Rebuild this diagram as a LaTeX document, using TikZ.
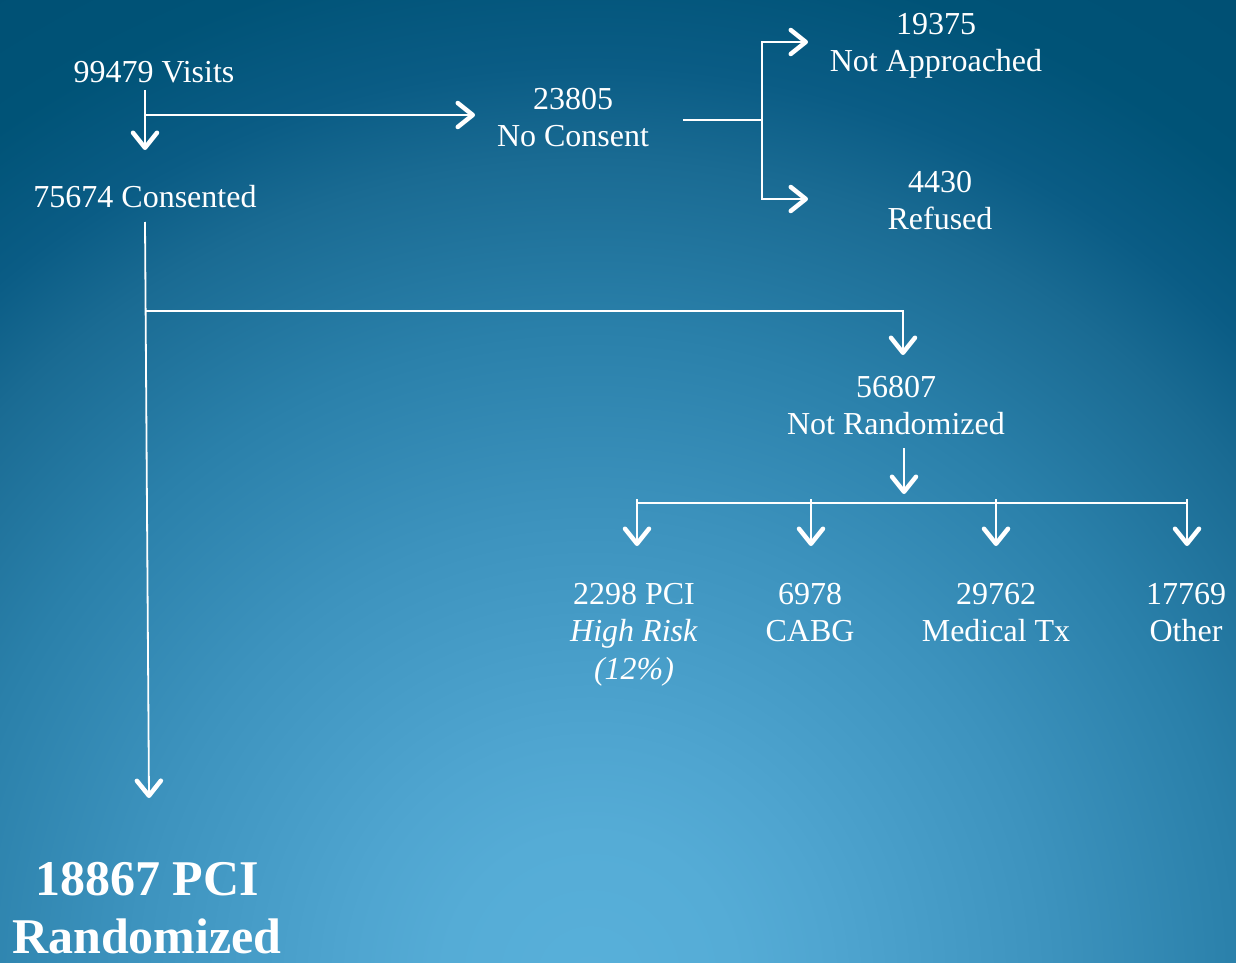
\documentclass[tikz,border=0pt]{standalone}
\usepackage{fontspec}
\setmainfont{Liberation Serif}
\usetikzlibrary{arrows.meta,positioning}
\definecolor{bgcore}{HTML}{58B0DA}
\definecolor{bglight}{HTML}{55ACD6}
\definecolor{bgsoft}{HTML}{4FA5D0}
\definecolor{bglow}{HTML}{3D93BE}
\definecolor{bgmid}{HTML}{2A80AA}
\definecolor{bgdeep}{HTML}{1A6B93}
\definecolor{bgdark}{HTML}{0A5C85}
\definecolor{bgtop}{HTML}{005377}
\definecolor{bgedge}{HTML}{004F73}
\pgfdeclareradialshading{bgglow}{\pgfpoint{0bp}{0bp}}{color(0bp)=(bgcore); color(6bp)=(bglight); color(10bp)=(bgsoft); color(19bp)=(bglow); color(27bp)=(bgmid); color(34bp)=(bgdeep); color(38bp)=(bgdark); color(43bp)=(bgtop); color(50bp)=(bgedge)}
\tikzset{
  label text/.style={text=white, align=center, anchor=north, inner sep=2pt,
    font=\fontsize{32}{37.5}\selectfont},
  result text/.style={label text, font=\bfseries\fontsize{50}{58}\selectfont},
  link/.style={draw=white, line width=1.8pt},
  flow/.style={link, -{Straight Barb[length=15pt, width=24pt, line width=4.5pt, round]}}
}
\begin{document}
\begin{tikzpicture}[x=1pt, y=-1pt]
    \useasboundingbox (0,0) rectangle (1236,963);
    % background
    \begin{scope}
        \clip (0,0) rectangle (1236,963);
        \node[inner sep=0pt, scale=24] (glow) at (590,980) {\pgfuseshading{bgglow}};
    \end{scope}

    % counts
    \node[label text] (visits) at (154,59) {99479 Visits};
    \node[label text] (consented) at (145,183) {75674 Consented};
    \node[label text] (nocons) at (573,86) {23805\\No Consent};
    \node[label text] (notappr) at (936,11) {19375\\Not Approached};
    \node[label text] (refused) at (940,169) {4430\\Refused};
    \node[label text] (notrand) at (896,374) {56807\\Not Randomized};
    \node[label text] (pcihr) at (634,581) {2298 PCI\\\textit{High Risk}\\\textit{(12\%)}};
    \node[label text] (cabg) at (810,581) {6978\\CABG};
    \node[label text] (medtx) at (996,581) {29762\\Medical Tx};
    \node[label text] (other) at (1186,581) {17769\\Other};
    \node[result text] (rand) at (147,860) {18867 PCI\\Randomized};

    % junctions
    \coordinate (vtop) at (145,90);
    \coordinate (vsplit) at (145,115);
    \coordinate (ctop) at (145,222);
    \coordinate (csplit) at (145,311);
    \coordinate (ncout) at (683,120);
    \coordinate (ncsplit) at (762,120);
    \coordinate (nrout) at (904,448);
    \coordinate (barl) at (637,503);
    \coordinate (barr) at (1187,503);

    \draw[flow] (vtop) -- (145,150);
    \draw[flow] (vsplit) -- (475,115);
    \draw[link] (ncout) -- (ncsplit);
    \draw[flow] (ncsplit) |- (808,42);
    \draw[flow] (ncsplit) |- (808,199);
    \draw[flow] (ctop) -- (149,798);
    \draw[flow] (csplit) -| (903,355);
    \draw[flow] (nrout) -- (904,494);
    \draw[link] (barl) -- (barr);
    \foreach \px in {637, 811, 996, 1187}
        \draw[flow] (\px,499) -- (\px,546);
\end{tikzpicture}
\end{document}
